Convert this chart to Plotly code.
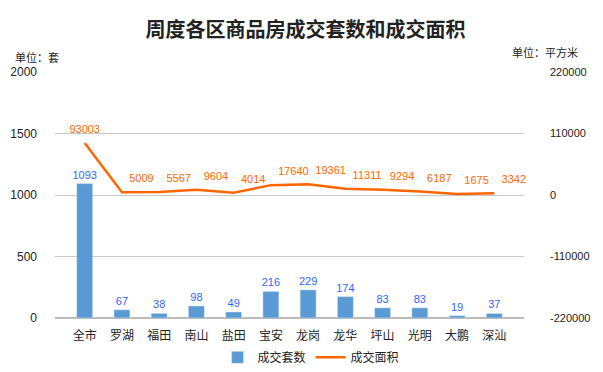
import plotly.graph_objects as go

categories = ["全市", "罗湖", "福田", "南山", "盐田", "宝安", "龙岗", "龙华", "坪山", "光明", "大鹏", "深汕"]
units = [1093, 67, 38, 98, 49, 216, 229, 174, 83, 83, 19, 37]
area = [93003, 5009, 5567, 9604, 4014, 17640, 19361, 11311, 9294, 6187, 1675, 3342]
left_ticks = [0, 500, 1000, 1500, 2000]
right_ticks = [-220000, -110000, 0, 110000, 220000]

font_cn = "Noto Sans CJK SC"
label_pos = ["top center"] + ["top right"] * (len(area) - 1)

fig = go.Figure()
fig.add_trace(go.Bar(
    x=categories, y=units, name="成交套数",
    marker=dict(color="#5B9BD5"), width=0.43,
    text=[str(v) for v in units], textposition="outside", constraintext="none",
    textfont=dict(color="#3366FF", size=11, family="Liberation Sans"),
    cliponaxis=False,
))
fig.add_trace(go.Scatter(
    x=categories, y=area, name="成交面积", yaxis="y2",
    mode="lines+markers+text", line=dict(color="#FF6600", width=2.5),
    marker=dict(size=10, color="rgba(0,0,0,0)"),
    text=[str(v) for v in area], textposition=label_pos,
    textfont=dict(color="#FF6600", size=11, family="Liberation Sans"),
    cliponaxis=False,
))

fig.update_layout(
    width=595, height=364,
    margin=dict(l=47, r=79, t=64, b=54, autoexpand=False),
    paper_bgcolor="white", plot_bgcolor="white",
    font=dict(family=font_cn, size=11, color="#333333"),
    title=dict(text="<b>周度各区商品房成交套数和成交面积</b>", x=0.5, xanchor="center",
               y=0.94, yanchor="middle", font=dict(size=20, color="#222222", family=font_cn)),
    xaxis=dict(showgrid=False, tickfont=dict(size=12, color="#222222"), ticks="",
               showline=False, ticklabelstandoff=9, automargin=False),
    yaxis=dict(range=[0, 2000], tickvals=left_ticks, showgrid=True, gridcolor="#C8C8C8",
               gridwidth=1, zeroline=True, zerolinecolor="#BBBBBB", zerolinewidth=1.5,
               tickfont=dict(size=12, color="#222222", family="Liberation Sans"), ticks="",
               ticklabelstandoff=17, automargin=False),
    yaxis2=dict(range=[-220000, 220000], tickvals=right_ticks,
                ticktext=[str(v) for v in right_ticks], overlaying="y", side="right",
                showgrid=False, zeroline=False, automargin=False,
                tickfont=dict(size=11, color="#222222", family="Liberation Sans"), ticks="",
                ticklabelstandoff=25),
    legend=dict(orientation="h", x=0.546, xanchor="center", y=-0.16, yanchor="middle",
                font=dict(size=12, color="#222222"), traceorder="normal"),
    bargap=0.57,
    annotations=[
        dict(text="单位：套", xref="paper", yref="paper", x=-0.09, y=1.059, xanchor="left",
             yanchor="middle", showarrow=False, font=dict(size=11, color="#222222")),
        dict(text="单位：平方米", xref="paper", yref="paper", x=1.119, y=1.081, xanchor="right",
             yanchor="middle", showarrow=False, font=dict(size=11, color="#222222")),
    ],
)

fig.write_html("out.html")
